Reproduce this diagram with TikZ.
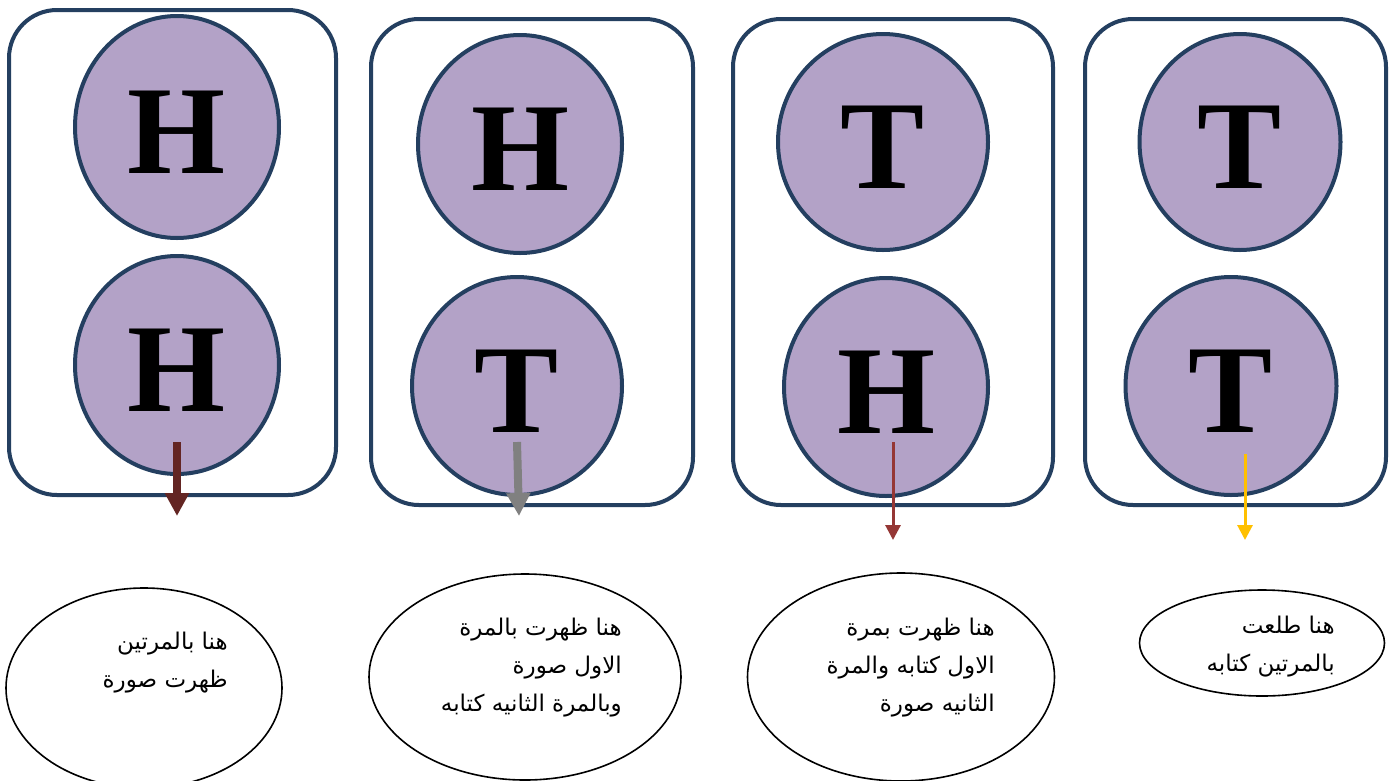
\documentclass[tikz,border=0pt]{standalone}
\usepackage{fontspec}
\setmainfont{Liberation Serif}
\newfontfamily\arabicfont[Script=Arabic]{DejaVu Sans}
\TeXXeTstate=1
\usetikzlibrary{shapes.geometric,arrows.meta}
\definecolor{boxblue}{HTML}{243F60}
\definecolor{coinfill}{HTML}{B3A2C7}
\definecolor{arrA}{HTML}{632523}
\definecolor{arrB}{HTML}{808080}
\definecolor{arrC}{HTML}{953735}
\definecolor{arrD}{HTML}{FFC000}
\tikzset{
  framebox/.style={draw=boxblue,line width=4pt,rounded corners=48pt},
  coin/.style={ellipse,draw=boxblue,fill=coinfill,line width=4pt,inner sep=0pt,
    font=\bfseries\fontsize{126}{126}\selectfont,text height=93pt,text depth=0pt},
  bubble/.style={ellipse,draw=black,line width=1.6pt,inner sep=0pt},
  note/.style={inner sep=0pt,anchor=north east,align=right,
    font=\arabicfont\fontsize{23}{38}\selectfont},
  thickarr/.style={line width=8pt,-{Triangle[width=23pt,length=23pt]}},
  thinarr/.style={line width=3pt,-{Triangle[width=15pt,length=15pt]}}
}
\begin{document}
\begin{tikzpicture}[x=1pt,y=-1pt]
\useasboundingbox[fill=white] (0,0) rectangle (1397,780);
% frames
\draw[framebox] (9,10) rectangle (336,495);
\draw[framebox] (371,19) rectangle (693,505);
\draw[framebox] (733,19) rectangle (1053,505);
\draw[framebox] (1085,19) rectangle (1386,505);
% coins
\node[coin,minimum width=204pt,minimum height=222pt] (c1a) at (177,127) {H};
\node[coin,minimum width=204pt,minimum height=218pt] (c1b) at (177,365) {H};
\node[coin,minimum width=204pt,minimum height=218pt] (c2a) at (520,144) {H};
\node[coin,minimum width=210pt,minimum height=218pt] (c2b) at (517,386) {T};
\node[coin,minimum width=210pt,minimum height=216pt] (c3a) at (883,142) {T};
\node[coin,minimum width=204pt,minimum height=218pt] (c3b) at (886,387) {H};
\node[coin,minimum width=201pt,minimum height=216pt] (c4a) at (1240,142) {T};
\node[coin,minimum width=211pt,minimum height=218pt] (c4b) at (1231,386) {T};
% bubbles
\node[bubble,minimum width=276pt,minimum height=200pt] (e1) at (144,688) {};
\node[bubble,minimum width=312pt,minimum height=206pt] (e2) at (525,677) {};
\node[bubble,minimum width=307pt,minimum height=208pt] (e3) at (901,677) {};
\node[bubble,minimum width=245pt,minimum height=106pt] (e4) at (1262,643) {};
% texts
\node[note] (t1) at (228,632) {\beginR هنا بالمرتين\endR\\\beginR ظهرت صورة\endR};
\node[note] (t2) at (622,618) {\beginR هنا ظهرت بالمرة\endR\\\beginR الاول صورة\endR\\\beginR وبالمرة الثانيه كتابه\endR};
\node[note] (t3) at (995,618) {\beginR هنا ظهرت بمرة\endR\\\beginR الاول كتابه والمرة\endR\\\beginR الثانيه صورة\endR};
\node[note] (t4) at (1335,616) {\beginR هنا طلعت\endR\\\beginR بالمرتين كتابه\endR};
% arrows
\coordinate (a1s) at (177,442); \coordinate (a1e) at (177,516);
\coordinate (a2s) at (517,442); \coordinate (a2e) at (519,516);
\coordinate (a3s) at (893,442); \coordinate (a3e) at (893,540);
\coordinate (a4s) at (1245,454); \coordinate (a4e) at (1245,540);
\draw[thickarr,arrA] (a1s) -- (a1e);
\draw[thickarr,arrB] (a2s) -- (a2e);
\draw[thinarr,arrC] (a3s) -- (a3e);
\draw[thinarr,arrD] (a4s) -- (a4e);
\end{tikzpicture}
\end{document}
